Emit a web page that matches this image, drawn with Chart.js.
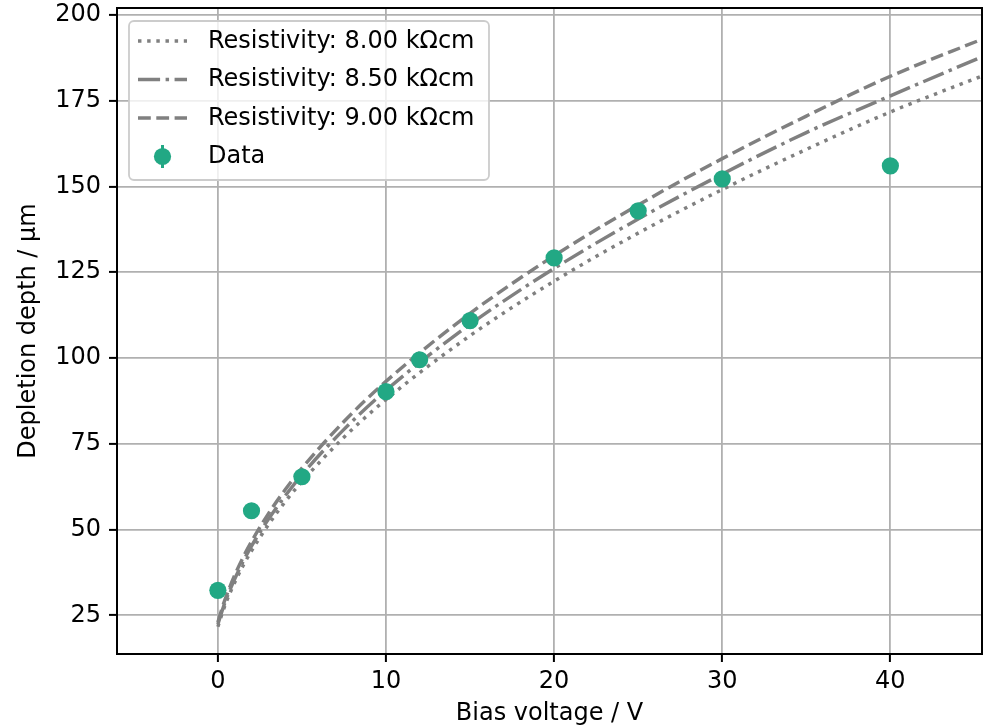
<!DOCTYPE html>
<html>
<head>
<meta charset="utf-8">
<title>Depletion depth vs bias voltage</title>
<script src="https://cdn.jsdelivr.net/npm/chart.js@4.4.0/dist/chart.umd.min.js"></script>
<style>
  html, body { margin: 0; padding: 0; background: #fff; }
  #wrap { width: 983px; height: 728px; }
</style>
</head>
<body>
<div id="wrap"><canvas id="depletion" width="983" height="728"></canvas></div>
<script>
// measured points
var biasVoltage = [0, 2, 5, 10, 12, 15, 20, 25, 30, 40];
var depthMeasured = [32.3, 55.5, 65.4, 90.2, 99.5, 110.9, 129.2, 142.9, 152.2, 156.0];

// model curves
var curveVoltage = [0, 0.25, 0.5, 1, 1.5, 2, 3, 4, 5, 7.5, 10, 15, 20, 25, 30, 35, 40, 45.5];
var depth800 = [21.7, 25.5, 28.9, 34.6, 39.5, 43.8, 51.4, 58.1, 64.0, 76.9, 87.9, 106.5, 122.4, 136.4, 149.1, 160.8, 171.7, 182.3];
var depth850 = [22.4, 26.3, 29.8, 35.6, 40.7, 45.2, 53.0, 59.8, 66.0, 79.2, 90.6, 109.8, 126.1, 140.5, 153.6, 165.7, 176.4, 187.9];
var depth900 = [23.0, 27.1, 30.6, 36.7, 41.9, 46.5, 54.6, 61.6, 67.9, 81.5, 93.2, 113.0, 129.8, 144.6, 158.1, 170.5, 182.1, 193.0];

var curveLabels = ['Resistivity: 8.00 kΩcm', 'Resistivity: 8.50 kΩcm', 'Resistivity: 9.00 kΩcm'];
var dataLabel = 'Data';

(function () {
  'use strict';

  var FONT = '"DejaVu Sans", "Liberation Sans", sans-serif';
  var GREY = '#808080';
  var GREEN = '#22a884';
  var LW = 3.46;

  function pairs(xs, ys) {
    return xs.map(function (x, i) {
      return { x: x, y: ys[i] };
    });
  }

  function curve(label, ys, dash, order) {
    return {
      label: label,
      data: pairs(curveVoltage, ys),
      borderColor: GREY,
      borderWidth: LW,
      borderDash: dash,
      borderCapStyle: 'butt',
      pointRadius: 0,
      fill: false,
      cubicInterpolationMode: 'monotone',
      order: order
    };
  }

  // box around the axes + matplotlib-like legend
  var frameLegend = {
    id: 'frameLegend',
    afterDatasetsDraw: function (chart) {
      var a = chart.chartArea;
      var ctx = chart.ctx;
      ctx.save();
      ctx.strokeStyle = '#000';
      ctx.lineWidth = 2;
      ctx.strokeRect(a.left, a.top, a.right - a.left, a.bottom - a.top);
      ctx.restore();
    },
    afterDraw: function (chart) {
      var ctx = chart.ctx;
      var x0 = 129, y0 = 21, w = 360, h = 159, r = 5;
      ctx.save();
      ctx.beginPath();
      ctx.moveTo(x0 + r, y0);
      ctx.arcTo(x0 + w, y0, x0 + w, y0 + h, r);
      ctx.arcTo(x0 + w, y0 + h, x0, y0 + h, r);
      ctx.arcTo(x0, y0 + h, x0, y0, r);
      ctx.arcTo(x0, y0, x0 + w, y0, r);
      ctx.closePath();
      ctx.fillStyle = 'rgba(255,255,255,0.8)';
      ctx.fill();
      ctx.strokeStyle = '#cccccc';
      ctx.lineWidth = 1.8;
      ctx.stroke();

      var rows = [41, 79.5, 118, 156.5];
      var items = chart.data.datasets.slice().sort(function (p, q) {
        return q.order - p.order;
      });
      ctx.font = '24px ' + FONT;
      ctx.textBaseline = 'middle';
      ctx.textAlign = 'left';
      items.forEach(function (ds, i) {
        var y = rows[i];
        if (ds.showLine === false) {
          ctx.setLineDash([]);
          ctx.strokeStyle = ds.backgroundColor;
          ctx.lineWidth = 3;
          ctx.beginPath();
          ctx.moveTo(162.5, y - 11.5);
          ctx.lineTo(162.5, y + 11.5);
          ctx.stroke();
          ctx.fillStyle = ds.backgroundColor;
          ctx.beginPath();
          ctx.arc(162.5, y, ds.pointRadius, 0, Math.PI * 2);
          ctx.fill();
        } else {
          ctx.setLineDash(ds.borderDash);
          ctx.lineDashOffset = 0;
          ctx.strokeStyle = ds.borderColor;
          ctx.lineWidth = ds.borderWidth;
          ctx.lineCap = 'butt';
          ctx.beginPath();
          ctx.moveTo(138, y);
          ctx.lineTo(187, y);
          ctx.stroke();
        }
        ctx.setLineDash([]);
        ctx.fillStyle = '#000';
        ctx.fillText(ds.label, 208, y + 0.5);
      });
      ctx.restore();
    }
  };

  var tickFont = { family: FONT, size: 24 };

  new Chart(document.getElementById('depletion').getContext('2d'), {
    type: 'line',
    data: {
      datasets: [
        {
          label: dataLabel,
          data: pairs(biasVoltage, depthMeasured),
          showLine: false,
          pointRadius: 8.6,
          pointHoverRadius: 8.6,
          pointBorderWidth: 0,
          backgroundColor: GREEN,
          borderColor: GREEN,
          order: 0
        },
        curve(curveLabels[2], depth900, [12.8, 5.5], 1),
        curve(curveLabels[1], depth850, [22.1, 5.5, 3.46, 5.5], 2),
        curve(curveLabels[0], depth800, [3.46, 5.7], 3)
      ]
    },
    options: {
      responsive: false,
      animation: false,
      events: [],
      layout: { autoPadding: false, padding: { top: 8, right: 1, left: 0, bottom: 0 } },
      plugins: {
        legend: { display: false },
        tooltip: { enabled: false }
      },
      scales: {
        x: {
          type: 'linear',
          min: -6,
          max: 45.45,
          border: { display: false },
          grid: { color: '#b0b0b0', lineWidth: 1.8, tickColor: '#000', tickWidth: 2, tickLength: 8 },
          ticks: { stepSize: 10, includeBounds: false, color: '#000', font: tickFont, padding: 5, maxRotation: 0 },
          title: { display: true, text: 'Bias voltage / V', color: '#000', font: tickFont, padding: { top: 0, bottom: 0 } },
          afterFit: function (s) {
            s.height = 74;
            s.paddingLeft = 0;
            s.paddingRight = 0;
          }
        },
        y: {
          type: 'linear',
          min: 13.75,
          max: 202,
          border: { display: false },
          grid: { color: '#b0b0b0', lineWidth: 1.8, tickColor: '#000', tickWidth: 2, tickLength: 8 },
          ticks: { stepSize: 25, includeBounds: false, color: '#000', font: tickFont, padding: 8 },
          title: { display: true, text: 'Depletion depth / µm', color: '#000', font: tickFont, padding: { top: 14.5, bottom: 0 } },
          afterFit: function (s) {
            s.width = 117;
            s.paddingTop = 0;
            s.paddingBottom = 0;
          }
        }
      }
    },
    plugins: [frameLegend]
  });
})();
</script>
</body>
</html>
